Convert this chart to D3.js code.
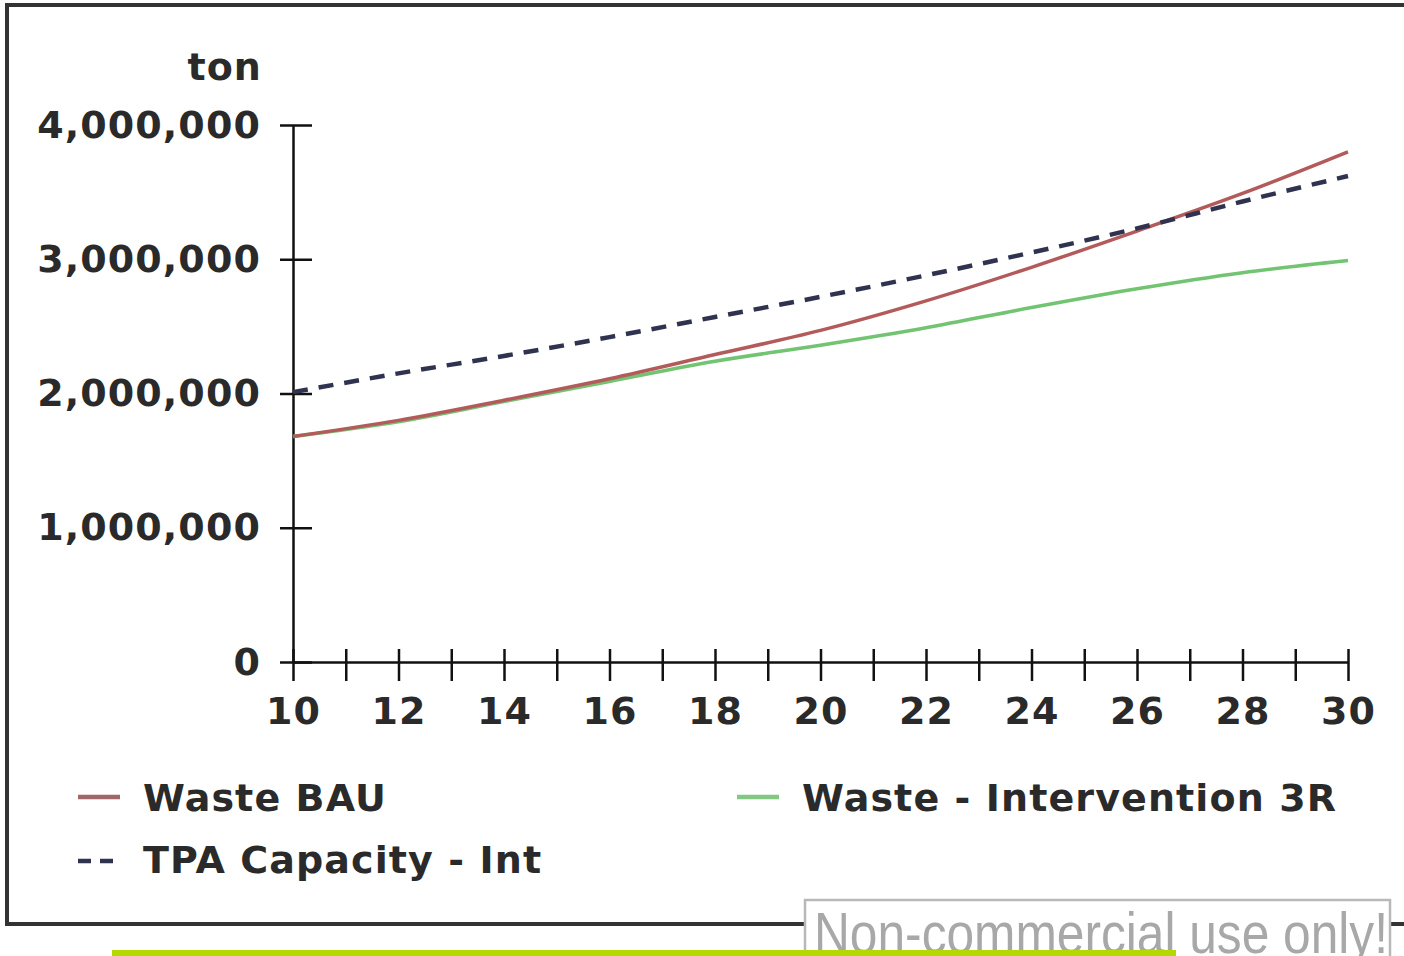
<!DOCTYPE html>
<html>
<head>
<meta charset="utf-8">
<script src="https://cdn.jsdelivr.net/npm/d3@7"></script>
<style>
  body { margin: 0; background: #fff; }
  svg { display: block; }
  text { font-family: "DejaVu Sans", Verdana, sans-serif; font-weight: bold; fill: #2a2a2a; letter-spacing: 1.1px; }
</style>
</head>
<body>
<div id="chart"></div>
<script>
// values (tons)
const years = [10, 12, 14, 16, 18, 20, 22, 24, 26, 28, 30];
const wasteBAU = [1680000, 1800000, 1950000, 2110000, 2290000, 2470000, 2690000, 2940000, 3210000, 3490000, 3800000];
const wasteInt = [1680000, 1790000, 1940000, 2090000, 2240000, 2360000, 2490000, 2640000, 2780000, 2900000, 2990000];
const tpaCapacity = [2010000, 2150000, 2280000, 2420000, 2570000, 2720000, 2880000, 3050000, 3230000, 3430000, 3620000];
const yTicks = [0, 1000000, 2000000, 3000000, 4000000];
const xTicks = d3.range(10, 31, 1);

const width = 1404,
      height = 956;

const svg = d3.select("#chart")
    .append("svg")
    .attr("width", width)
    .attr("height", height);

// outer frame (runs off the right edge)
svg.append("rect")
    .attr("x", 7).attr("y", 5)
    .attr("width", 1430).attr("height", 919)
    .attr("fill", "#fff")
    .attr("stroke", "#333")
    .attr("stroke-width", 4);

const x = d3.scaleLinear()
    .domain([10, 30])
    .range([293, 1348]);

const y = d3.scaleLinear()
    .domain([0, 4000000])
    .range([662, 125]);

// x axis
const xAxis = svg.append("g")
    .attr("transform", `translate(0,${y(0)})`)
    .call(d3.axisBottom(x)
        .tickValues(xTicks)
        .tickSize(19)
        .tickSizeOuter(0)
        .tickPadding(16)
        .tickFormat(d => d % 2 === 0 ? d : ""));

xAxis.selectAll(".tick line").attr("y1", -13);

// y axis
const yAxis = svg.append("g")
    .attr("transform", `translate(${x(10)},0)`)
    .call(d3.axisLeft(y)
        .tickValues(yTicks)
        .tickSize(13)
        .tickSizeOuter(0)
        .tickPadding(19)
        .tickFormat(d3.format(",")));

yAxis.selectAll(".tick line").attr("x1", 19);

svg.selectAll(".domain, .tick line")
    .attr("stroke", "#111")
    .attr("stroke-width", 2.5);

svg.selectAll(".tick text")
    .attr("fill", "#2a2a2a")
    .style("font-size", "38px")
    .style("font-family", "DejaVu Sans, Verdana, sans-serif")
    .style("font-weight", "bold");

svg.append("text")
    .attr("x", 262)
    .attr("y", 80)
    .attr("text-anchor", "end")
    .style("font-size", "38px")
    .text("ton");

// lines
const line = d3.line()
    .x((d, i) => x(years[i]))
    .y(d => y(d))
    .curve(d3.curveMonotoneX);

svg.append("path")
    .datum(wasteInt)
    .attr("fill", "none")
    .attr("stroke", "#72c472")
    .attr("stroke-width", 3.5)
    .attr("d", line);

svg.append("path")
    .datum(wasteBAU)
    .attr("fill", "none")
    .attr("stroke", "#b35a5a")
    .attr("stroke-width", 3.5)
    .attr("d", line);

svg.append("path")
    .datum(tpaCapacity)
    .attr("fill", "none")
    .attr("stroke", "#2f3350")
    .attr("stroke-width", 4.5)
    .attr("stroke-dasharray", "15,11")
    .attr("d", line);

// legend
const legend = [
    { name: "Waste BAU", color: "#a06868", dash: null, lx: 78, ly: 797, ty: 811 },
    { name: "Waste - Intervention 3R", color: "#82c882", dash: null, lx: 737, ly: 797, ty: 811 },
    { name: "TPA Capacity - Int", color: "#2f3350", dash: "13,9", lx: 78, ly: 861, ty: 873 }
];

const item = svg.selectAll(".legend")
    .data(legend)
    .join("g")
    .attr("class", "legend");

item.append("line")
    .attr("x1", d => d.lx)
    .attr("x2", d => d.lx + 42)
    .attr("y1", d => d.ly)
    .attr("y2", d => d.ly)
    .attr("stroke", d => d.color)
    .attr("stroke-width", 4.5)
    .attr("stroke-dasharray", d => d.dash);

item.append("text")
    .attr("x", d => d.lx + 65)
    .attr("y", d => d.ty)
    .style("font-size", "38px")
    .text(d => d.name);

// watermark box
svg.append("rect")
    .attr("x", 805).attr("y", 900)
    .attr("width", 585).attr("height", 80)
    .attr("fill", "#fff")
    .attr("stroke", "#b8b8b8")
    .attr("stroke-width", 2.5);

svg.append("text")
    .attr("x", 814)
    .attr("y", 953)
    .attr("textLength", 574)
    .attr("lengthAdjust", "spacingAndGlyphs")
    .style("font-family", "Liberation Sans, Arial, sans-serif")
    .style("font-weight", "normal")
    .style("letter-spacing", "0px")
    .style("font-size", "58px")
    .style("fill", "#a8a8a8")
    .text("Non-commercial use only!");

// lime strip at the bottom
svg.append("rect")
    .attr("x", 112).attr("y", 950)
    .attr("width", 1064).attr("height", 6)
    .attr("fill", "#b5d800");
</script>
</body>
</html>
